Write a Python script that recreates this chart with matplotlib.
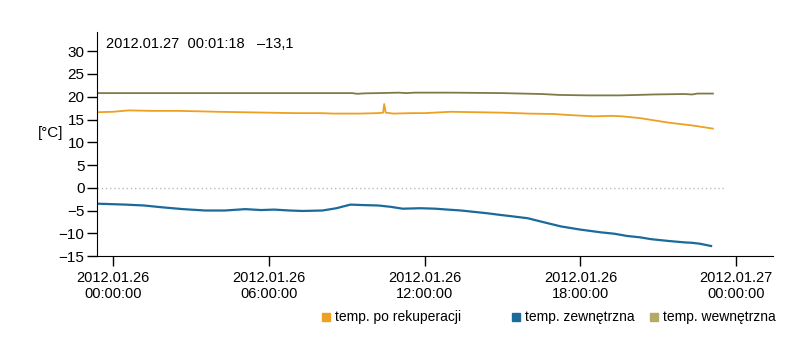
import numpy as np
import matplotlib.pyplot as plt
from matplotlib.patches import Rectangle

plt.rcParams['font.family'] = ['Liberation Sans Narrow', 'Liberation Sans', 'DejaVu Sans']

# hours from 2012.01.26 00:00:00
po_rek_h = [-0.62, 0.0, 0.6, 1.5, 2.5, 3.3, 4.0, 5.0, 6.0, 7.0, 8.0, 8.5, 9.5, 10.2, 10.4, 10.44, 10.5, 10.8,
            11.5, 12.0, 13.0, 14.0, 15.0, 16.0, 17.0, 17.5, 18.5, 19.2, 19.6, 20.3, 21.4, 22.3, 23.1]
po_rek_t = [16.6, 16.7, 17.0, 16.9, 16.9, 16.8, 16.7, 16.6, 16.5, 16.4, 16.4, 16.3, 16.3, 16.4, 16.5, 18.4, 16.5, 16.3,
            16.4, 16.4, 16.7, 16.6, 16.5, 16.3, 16.2, 16.0, 15.7, 15.8, 15.7, 15.3, 14.3, 13.7, 13.0]

zewn_h = [-0.62, 0.46, 1.2, 1.89, 2.7, 3.55, 4.3, 5.09, 5.7, 6.2, 6.8, 7.29, 8.06, 8.6, 9.14, 9.6, 10.22, 10.7,
          11.15, 11.84, 12.4, 12.89, 13.4, 13.9, 14.4, 14.81, 15.4, 15.97, 16.6, 17.25, 18.0, 18.79, 19.3, 19.8,
          20.3, 20.72, 21.4, 21.99, 22.3, 22.6, 23.03]
zewn_t = [-3.5, -3.7, -3.9, -4.3, -4.7, -5.0, -5.0, -4.7, -4.9, -4.8, -5.0, -5.1, -5.0, -4.5, -3.7, -3.8, -3.9, -4.2,
          -4.6, -4.5, -4.6, -4.8, -5.0, -5.3, -5.6, -5.9, -6.3, -6.7, -7.6, -8.5, -9.2, -9.8, -10.1, -10.6,
          -10.9, -11.3, -11.7, -12.0, -12.1, -12.3, -12.8]

wewn_h = [-0.62, 9.2, 9.4, 9.7, 10.2, 11.0, 11.3, 11.6, 13.0, 15.0, 16.5, 17.2, 18.3, 19.5, 20.2,
          20.8, 22.0, 22.3, 22.5, 23.1]
wewn_t = [20.8, 20.8, 20.65, 20.75, 20.8, 20.9, 20.8, 20.9, 20.9, 20.8, 20.6, 20.4, 20.3, 20.3, 20.4,
          20.5, 20.6, 20.5, 20.7, 20.7]

xticks = [0, 6, 12, 18, 24]
xlabels = ['2012.01.26\n00:00:00', '2012.01.26\n06:00:00', '2012.01.26\n12:00:00',
           '2012.01.26\n18:00:00', '2012.01.27\n00:00:00']
yticks = [-15, -10, -5, 0, 5, 10, 15, 20, 25, 30]

legend_labels = ['temp. po rekuperacji', 'temp. zewnętrzna', 'temp. wewnętrzna']

c_orange = '#eea020'
c_blue = '#1a6a9a'
c_olive_line = '#7e7a48'
c_olive = '#b3aa66'

fig = plt.figure(figsize=(8.12, 3.52), dpi=100)
ax = fig.add_axes([0.1195, 0.2727, 0.832, 0.6373])

ax.axhline(0, xmax=0.93, color='#bbbbbb', lw=1, ls=(0, (1, 2)))
ax.plot(wewn_h, wewn_t, color=c_olive_line, lw=1.3)
ax.plot(po_rek_h, po_rek_t, color=c_orange, lw=1.3)
ax.plot(zewn_h, zewn_t, color=c_blue, lw=1.6)

ax.set_xlim(-0.62, 25.4)
ax.set_ylim(-15, 34.3)
ax.set_xticks(xticks)
ax.set_xticklabels(xlabels)
ax.set_yticks(yticks)
ax.tick_params(axis='both', direction='out', length=7, width=1, labelsize=10.5, color='black')
ax.tick_params(axis='y', pad=2, labelsize=11)
ax.spines['top'].set_visible(False)
ax.spines['right'].set_visible(False)

fig.text(0.062, 0.622, '[°C]', fontsize=11, ha='center', va='center')
ax.text(0.014, 0.975, '2012.01.27  00:01:18   \u201313,1', transform=ax.transAxes,
        fontsize=10.5, ha='left', va='top')

# legend drawn by hand to keep the uneven spacing of the original
sq_x = [322 / 812, 512 / 812, 650 / 812]
for x, c, lab in zip(sq_x, (c_orange, c_blue, c_olive), legend_labels):
    fig.patches.append(Rectangle((x, 1 - 321 / 352), 8 / 812, 8 / 352, transform=fig.transFigure,
                                 color=c, figure=fig))
    fig.text(x + 13 / 812, 1 - 317 / 352, lab, fontsize=10, ha='left', va='center')

fig.savefig('out.png', dpi=100)
